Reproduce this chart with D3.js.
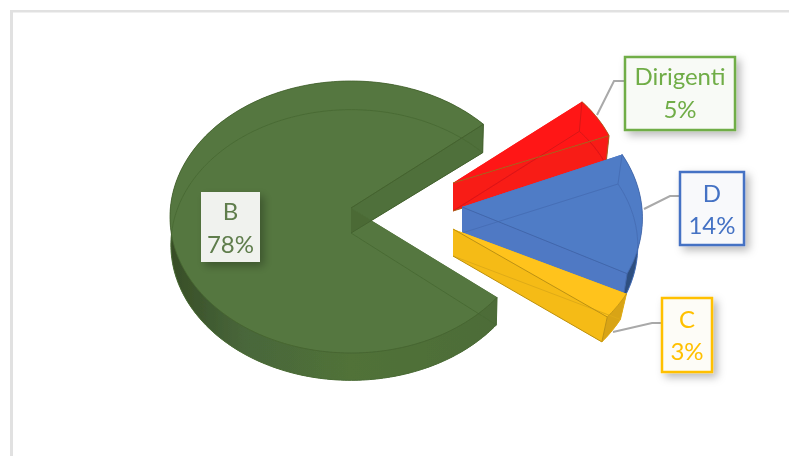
<!DOCTYPE html>
<html>
<head>
<meta charset="utf-8">
<script src="https://cdn.jsdelivr.net/npm/d3@7"></script>
<style>
  html, body { margin: 0; padding: 0; background: #fff; overflow: hidden; }
  text { font-family: Lato, "Open Sans", sans-serif; }
</style>
</head>
<body>
<script>
const WIDTH = 789;
const HEIGHT = 456;

// data
const categories = ["Dirigenti", "D", "C", "B"];
const values = [5, 14, 3, 78];

// pie geometry
const CENTER = { x: 351, y: 217 };
const RX = 181;
const RY = 136;
const DEPTH = 28;
const START_ANGLE = 47 * Math.PI / 180;

// how each slice is pulled out of the pie and coloured
const SLICE_STYLE = {
    Dirigenti: { dx: 102, dy: -34, apexDx: 0, apexDy: 0, apexDepth: 28, scale: 0.93, shrink: 0.98, rotate: 3, top: "#ff1616", wall: "#f81a18", rim: "#ee1a18", edge: "#a8641e", hidden: "#d81616" },
    D: { dx: 105, dy: 1, apexDx: 6, apexDy: -11, apexDepth: 26, scale: 1.03, shrink: 0.975, rotate: -2, top: "#4f7cc6", wall: "#5079c4", rim: "#2f4f80", edge: "#4267ab", hidden: "#466eb6" },
    C: { dx: 102, dy: 12, apexDx: 0, apexDy: 0, apexDepth: 27, scale: 1.07, shrink: 0.965, rotate: 1, top: "#ffc31a", wall: "#f5bb18", rim: "#d8a414", edge: "#bd9212", hidden: "#dfab16" },
    B: { dx: 0, dy: 0, apexDx: 0, apexDy: -9, apexDepth: 25, scale: 1, shrink: 0.995, rotate: 0, top: "#55773f", wall: "#4f6f3a", rim: "url(#rimGreen)", edge: "#44622f", hidden: "#4a6b35" },
};

// label boxes with their leader lines
const LABEL_STYLE = {
    Dirigenti: { box: [625, 57, 110, 73], leader: [[597, 115], [614, 81], [625, 81]], color: "#70ad47", text: "#70ad47", fill: "#f8faf6", base: [85, 118] },
    D: { box: [680, 172, 64, 73], leader: [[644, 209], [670, 196], [680, 196]], color: "#4472c4", text: "#4472c4", fill: "#f8f9fb", base: [202, 234] },
    C: { box: [662, 298, 50, 74], leader: [[613, 332], [652, 323], [662, 323]], color: "#ffc000", text: "#ffc000", fill: "#fdfcf7", base: [328, 360] },
    B: { box: [201, 192, 59, 70], leader: null, color: null, text: "#5f7d4c", fill: "#f0f2ee", base: [220, 253] },
};

const svg = d3.select("body")
    .append("svg")
    .attr("width", WIDTH)
    .attr("height", HEIGHT)
    .style("display", "block");

const defs = svg.append("defs");

const rimGradient = defs.append("linearGradient")
    .attr("id", "rimGreen")
    .attr("x1", 0).attr("x2", 1).attr("y1", 0).attr("y2", 0);
rimGradient.append("stop").attr("offset", "0%").attr("stop-color", "#374d26");
rimGradient.append("stop").attr("offset", "22%").attr("stop-color", "#48663a");
rimGradient.append("stop").attr("offset", "55%").attr("stop-color", "#517239");
rimGradient.append("stop").attr("offset", "100%").attr("stop-color", "#4d6c38");

defs.append("filter")
    .attr("id", "soft")
    .append("feGaussianBlur")
    .attr("stdDeviation", 0.6);

defs.append("filter")
    .attr("id", "softText")
    .append("feGaussianBlur")
    .attr("stdDeviation", 0.35);

const shadow = defs.append("filter")
    .attr("id", "boxShadow")
    .attr("x", "-30%").attr("y", "-30%").attr("width", "170%").attr("height", "170%");
shadow.append("feDropShadow")
    .attr("dx", 4).attr("dy", 4).attr("stdDeviation", 4)
    .attr("flood-color", "#000").attr("flood-opacity", 0.28);

// panel border, only left and top are in view
svg.append("rect").attr("x", 10).attr("y", 10).attr("width", WIDTH - 10).attr("height", 2.5).attr("fill", "#e1e1e1");
svg.append("rect").attr("x", 10).attr("y", 10).attr("width", 3).attr("height", HEIGHT - 10).attr("fill", "#e1e1e1");

const pie = d3.pie()
    .sort(null)
    .value((d) => d.value)
    .startAngle(START_ANGLE)
    .endAngle(START_ANGLE + 2 * Math.PI);

const slices = pie(categories.map((name, i) => ({ name: name, value: values[i] })));

const line = d3.line();

function topPoint(style, angle) {
    const a = angle + style.rotate * Math.PI / 180;
    return [
        CENTER.x + style.dx + Math.sin(a) * RX * style.scale,
        CENTER.y + style.dy - Math.cos(a) * RY * style.scale,
    ];
}

function bottomPoint(style, angle) {
    const a = angle + style.rotate * Math.PI / 180;
    return [
        CENTER.x + style.dx + Math.sin(a) * RX * style.scale * style.shrink,
        CENTER.y + style.dy + DEPTH - Math.cos(a) * RY * style.scale * style.shrink,
    ];
}

function angleSteps(d) {
    const steps = Math.max(6, Math.ceil((d.endAngle - d.startAngle) / 0.02));
    return d3.range(steps + 1).map((i) => d.startAngle + (d.endAngle - d.startAngle) * i / steps);
}

function closed(points) {
    return line(points) + "Z";
}

const pieGroup = svg.append("g").attr("filter", "url(#soft)");

// back to front
["B", "Dirigenti", "D", "C"].forEach((name) => {
    const d = slices.find((s) => s.data.name === name);
    const style = SLICE_STYLE[name];
    const angles = angleSteps(d);
    const g = pieGroup.append("g");

    const apexTop = [CENTER.x + style.dx + style.apexDx, CENTER.y + style.dy + style.apexDy];
    const apexBottom = [apexTop[0], apexTop[1] + style.apexDepth];

    const topArc = angles.map((a) => topPoint(style, a));
    const bottomArc = angles.map((a) => bottomPoint(style, a));
    const topFace = closed([apexTop, ...topArc]);
    const bottomFace = closed([apexBottom, ...bottomArc]);
    const endCut = closed([apexTop, topPoint(style, d.endAngle), bottomPoint(style, d.endAngle), apexBottom]);
    const startCut = closed([apexTop, topPoint(style, d.startAngle), bottomPoint(style, d.startAngle), apexBottom]);

    g.append("path").attr("d", bottomFace).attr("fill", style.wall);
    g.append("path").attr("d", startCut).attr("fill", style.wall);
    g.append("path").attr("d", closed([...topArc, ...bottomArc.slice().reverse()])).attr("fill", style.rim);
    g.append("path").attr("d", endCut).attr("fill", style.wall);
    g.append("path").attr("d", topFace).attr("fill", style.top);

    // the cut wall shows through the top face where they overlap
    const clipId = "clip" + name;
    defs.append("clipPath").attr("id", clipId).append("path").attr("d", topFace);
    g.append("path")
        .attr("d", endCut)
        .attr("clip-path", `url(#${clipId})`)
        .attr("fill", style.edge)
        .attr("fill-opacity", 0.55);

    // edges that are seen through the faces
    g.append("path")
        .attr("d", line(bottomArc))
        .attr("fill", "none")
        .attr("stroke", style.hidden)
        .attr("stroke-width", 1);
    g.append("path")
        .attr("d", line([apexBottom, bottomArc[0]]))
        .attr("fill", "none")
        .attr("stroke", style.hidden)
        .attr("stroke-width", 1);
    g.append("path")
        .attr("d", line([topArc[0], bottomArc[0]]))
        .attr("fill", "none")
        .attr("stroke", style.hidden)
        .attr("stroke-width", 1);
    g.append("path")
        .attr("d", line(topArc))
        .attr("fill", "none")
        .attr("stroke", style.edge)
        .attr("stroke-width", 0.8);
    g.append("path")
        .attr("d", line([apexTop, topArc[topArc.length - 1], bottomArc[bottomArc.length - 1], apexBottom]))
        .attr("fill", "none")
        .attr("stroke", style.edge)
        .attr("stroke-width", 1);
});

// leader lines and labels
const labels = svg.append("g");

slices.forEach((d) => {
    const name = d.data.name;
    const label = LABEL_STYLE[name];
    const [x, y, w, h] = label.box;

    if (label.leader) {
        labels.append("path")
            .attr("d", line(label.leader))
            .attr("fill", "none")
            .attr("stroke", "#a9a9a9")
            .attr("stroke-width", 2);
    }

    labels.append("rect")
        .attr("x", x)
        .attr("y", y)
        .attr("width", w)
        .attr("height", h)
        .attr("fill", label.fill)
        .attr("stroke", label.color || "none")
        .attr("stroke-width", 2.5)
        .attr("filter", "url(#boxShadow)");

    [name, d.data.value + "%"].forEach((t, i) => {
        labels.append("text")
            .attr("x", x + w / 2)
            .attr("y", label.base[i])
            .attr("text-anchor", "middle")
            .attr("font-size", 24)
            .attr("fill", label.text)
            .attr("filter", "url(#softText)")
            .text(t);
    });
});
</script>
</body>
</html>
